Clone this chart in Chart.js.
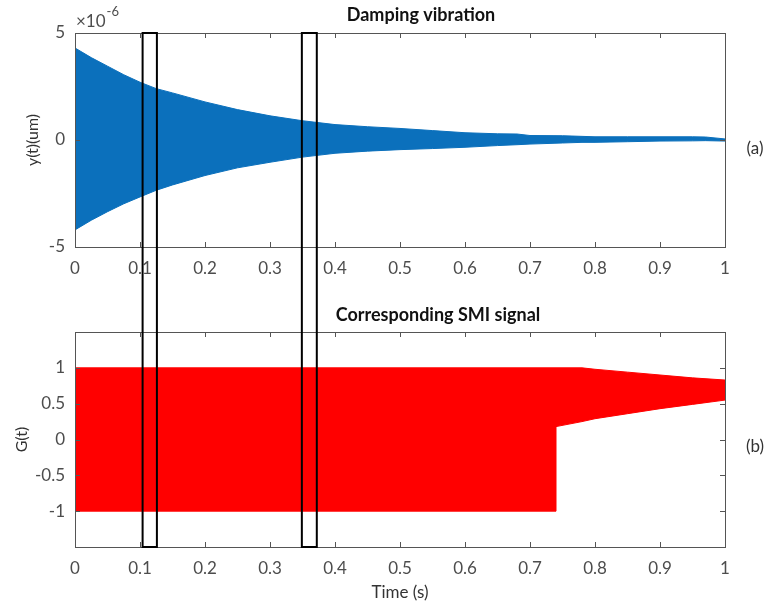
<!DOCTYPE html>
<html>
<head>
    <title>Damping vibration and SMI signal</title>
    <script src="https://cdn.jsdelivr.net/npm/chart.js"></script>
    <style>
        body { margin: 0; background: #fff; }
        #wrap { position: relative; width: 768px; height: 604px; background: #fff; }
        canvas { position: absolute; left: 0; }
        #topChart { top: 0; }
        #botChart { top: 300px; }
    </style>
</head>
<body>
<div id="wrap">
    <canvas id="topChart" width="768" height="300"></canvas>
    <canvas id="botChart" width="768" height="304"></canvas>
</div>
<script>
// ---- data ----
// (a) envelope of the damped vibration, values in units of 1e-6
const timeA  = [0, 0.025, 0.05, 0.075, 0.1, 0.125, 0.15, 0.2, 0.25, 0.3, 0.35, 0.4, 0.45, 0.5, 0.55, 0.6, 0.65, 0.68, 0.7, 0.75, 0.78, 0.8, 0.85, 0.9, 0.95, 0.97, 1.0];
const upperA = [4.3, 3.85, 3.45, 3.05, 2.7, 2.4, 2.2, 1.78, 1.42, 1.13, 0.9, 0.72, 0.62, 0.54, 0.44, 0.34, 0.29, 0.28, 0.21, 0.2, 0.17, 0.15, 0.15, 0.15, 0.15, 0.14, 0.05];
const lowerA = [-4.2, -3.75, -3.35, -2.98, -2.66, -2.35, -2.1, -1.66, -1.3, -1.04, -0.8, -0.62, -0.52, -0.45, -0.4, -0.34, -0.26, -0.22, -0.19, -0.14, -0.11, -0.11, -0.08, -0.05, -0.04, -0.03, -0.05];
const yTicksA = [-5, 0, 5];
const yExponent = -6;

// (b) envelope of the SMI signal
const timeB  = [0, 0.1, 0.2, 0.3, 0.4, 0.5, 0.6, 0.7, 0.74, 0.74, 0.78, 0.8, 0.85, 0.9, 0.95, 1.0];
const upperB = [1, 1, 1, 1, 1, 1, 1, 1, 1, 1, 1, 0.98, 0.94, 0.9, 0.86, 0.83];
const lowerB = [-1, -1, -1, -1, -1, -1, -1, -1, -1, 0.18, 0.25, 0.29, 0.36, 0.43, 0.49, 0.55];
const yTicksB = [-1, -0.5, 0, 0.5, 1];

const xTicks = [0, 0.1, 0.2, 0.3, 0.4, 0.5, 0.6, 0.7, 0.8, 0.9, 1];
// highlighted time windows (s)
const boxRanges = [[0.104, 0.126], [0.349, 0.372]];

const tickColor = '#4d4d4d';
const axisColor = '#555';
const fontName = 'Lato, "Open Sans", sans-serif';

function pts(xs, ys) {
    return xs.map((x, i) => ({ x: x, y: ys[i] }));
}

// draws the matlab style box, inner ticks, titles and the window boxes
const decorPlugin = {
    id: 'decor',
    afterDraw(chart, args, opts) {
        const ctx = chart.ctx;
        const a = chart.chartArea;
        const xs = chart.scales.x, ys = chart.scales.y;
        ctx.save();
        ctx.strokeStyle = axisColor;
        ctx.lineWidth = 1;
        ctx.strokeRect(a.left + 0.5, a.top + 0.5, a.right - a.left, a.bottom - a.top);
        ctx.beginPath();
        xTicks.forEach(v => {
            const px = Math.round(xs.getPixelForValue(v)) + 0.5;
            ctx.moveTo(px, a.bottom); ctx.lineTo(px, a.bottom - 5);
            ctx.moveTo(px, a.top); ctx.lineTo(px, a.top + 5);
        });
        opts.yTicks.forEach(v => {
            const py = Math.round(ys.getPixelForValue(v)) + 0.5;
            ctx.moveTo(a.left, py); ctx.lineTo(a.left + 5, py);
            ctx.moveTo(a.right, py); ctx.lineTo(a.right - 5, py);
        });
        ctx.stroke();

        // title
        ctx.fillStyle = '#111';
        ctx.font = 'bold 18px ' + fontName;
        ctx.textAlign = 'center';
        ctx.textBaseline = 'middle';
        ctx.fillText(opts.title, opts.titleX, opts.titleY);

        // panel label
        ctx.fillStyle = '#333';
        ctx.font = '17px ' + fontName;
        ctx.fillText(opts.side, a.right + 30, opts.sideY);

        if (opts.exponent) {
            ctx.fillStyle = tickColor;
            ctx.textAlign = 'left';
            ctx.textBaseline = 'alphabetic';
            ctx.font = '17px ' + fontName;
            ctx.fillText('\u00d710', a.left + 1, a.top - 6);
            const w = ctx.measureText('\u00d710').width;
            ctx.font = '13px ' + fontName;
            ctx.fillText(String(yExponent), a.left + 2 + w, a.top - 17);
        }

        // window boxes spanning both panels
        ctx.strokeStyle = '#000';
        ctx.lineWidth = 2;
        boxRanges.forEach(r => {
            const x0 = xs.getPixelForValue(r[0]);
            const x1 = xs.getPixelForValue(r[1]);
            ctx.beginPath();
            if (opts.part === 'top') {
                ctx.moveTo(x0, chart.height);
                ctx.lineTo(x0, a.top);
                ctx.lineTo(x1, a.top);
                ctx.lineTo(x1, chart.height);
            } else {
                ctx.moveTo(x0, 0);
                ctx.lineTo(x0, a.bottom);
                ctx.lineTo(x1, a.bottom);
                ctx.lineTo(x1, 0);
            }
            ctx.stroke();
        });
        ctx.restore();
    }
};

function makeChart(id, cfg) {
    return new Chart(document.getElementById(id), {
        type: 'line',
        data: {
            datasets: [{
                data: pts(cfg.time, cfg.upper),
                borderColor: cfg.color,
                backgroundColor: cfg.color,
                borderWidth: 1,
                pointRadius: 0,
                tension: 0,
                fill: '+1'
            }, {
                data: pts(cfg.time, cfg.lower),
                borderColor: cfg.color,
                borderWidth: 1,
                pointRadius: 0,
                tension: 0,
                fill: false
            }]
        },
        options: {
            responsive: false,
            animation: false,
            layout: { padding: { top: cfg.padTop, right: 43, left: 0, bottom: 0 } },
            plugins: {
                legend: { display: false },
                tooltip: { enabled: false },
                decor: cfg.decor
            },
            scales: {
                x: {
                    type: 'linear',
                    min: 0, max: 1,
                    grid: { display: false, drawTicks: false },
                    border: { display: false },
                    afterBuildTicks: s => { s.ticks = xTicks.map(v => ({ value: v })); },
                    afterFit: s => { s.height = cfg.xHeight; },
                    ticks: {
                        color: tickColor,
                        padding: 11,
                        maxRotation: 0,
                        font: { family: fontName, size: 17 },
                        callback: v => String(Number(v.toFixed(1)))
                    },
                    title: {
                        display: !!cfg.xTitle,
                        text: cfg.xTitle || '',
                        color: '#333',
                        font: { family: fontName, size: 17 },
                        padding: { top: 0, bottom: 1 }
                    }
                },
                y: {
                    min: cfg.yMin, max: cfg.yMax,
                    grid: { display: false, drawTicks: false },
                    border: { display: false },
                    afterBuildTicks: s => { s.ticks = cfg.yTicks.map(v => ({ value: v })); },
                    afterFit: s => { s.width = 75; },
                    ticks: {
                        color: tickColor,
                        padding: 10,
                        font: { family: fontName, size: 17 },
                        callback: v => String(v)
                    },
                    title: {
                        display: true,
                        text: cfg.yTitle,
                        color: '#333',
                        font: { family: fontName, size: 16 },
                        padding: { top: cfg.yTitlePad, bottom: 0 }
                    }
                }
            }
        },
        plugins: [decorPlugin]
    });
}

makeChart('topChart', {
    time: timeA, upper: upperA, lower: lowerA,
    color: '#0b70bc',
    yMin: -5, yMax: 5, yTicks: yTicksA,
    yTitle: 'y(t)(um)', yTitlePad: 23,
    padTop: 33, xHeight: 53,
    decor: { title: 'Damping vibration', titleX: 421, titleY: 15, side: '(a)', sideY: 149, yTicks: yTicksA, exponent: true, part: 'top' }
});

makeChart('botChart', {
    time: timeB, upper: upperB, lower: lowerB,
    color: '#ff0000',
    yMin: -1.5, yMax: 1.5, yTicks: yTicksB,
    yTitle: 'G(t)', yTitlePad: 12,
    padTop: 32, xHeight: 57, xTitle: 'Time (s)',
    decor: { title: 'Corresponding SMI signal', titleX: 438, titleY: 15, side: '(b)', sideY: 147, yTicks: yTicksB, exponent: false, part: 'bottom' }
});
</script>
</body>
</html>
